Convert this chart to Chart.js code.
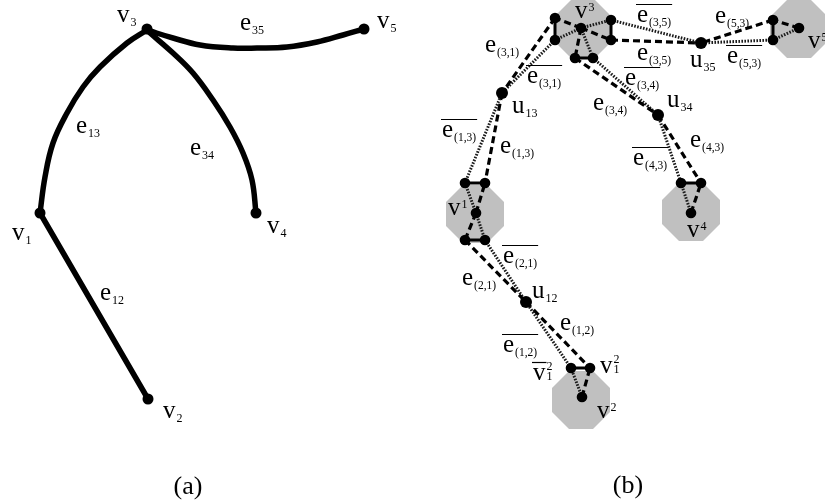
<!DOCTYPE html>
<html><head><meta charset="utf-8">
<script src="https://cdn.jsdelivr.net/npm/chart.js@4.4.0/dist/chart.umd.min.js"></script>
<style>html,body{margin:0;padding:0;background:#fff}#wrap{width:825px;height:503px;position:relative}</style>
</head><body><div id="wrap"><canvas id="c"></canvas></div>
<script>
// ---------- Panel (a): graph vertices ----------
const aNodeNames = ['v1','v2','v3','v4','v5'];
const aNodeX = [40,148,147,256,364];
const aNodeY = [213,399,29,213,29];
// Panel (a): points read along each edge
const e13X = [147,127,100,83,67,53,45,40];
const e13Y = [30,43,67,87,113,143,177,213];
const e34X = [150,173,193,213,230,243,252,256];
const e34Y = [33,53,73,100,127,153,180,213];
const e35X = [147,173,200,233,257,287,317,343,364];
const e35Y = [30,38,45,48,48,47,42,35,29];
const e12X = [40,148];
const e12Y = [213,399];

// ---------- Panel (b): gadget nodes ----------
const bNodeNames = ['v3','v3L1','v3L2','v3R1','v3R2','v3B1','v3B2',
  'v5','v5P1','v5P2','u35','u13','u34','u12',
  'v4','v4P1','v4P2','v1','v1T1','v1T2','v1B1','v1B2','v2','v2P1','v2P2'];
const bNodeX = [581,555,555,611,611,575,593, 799,773,773, 701,502,658,526, 691,681,701, 476,465,485,465,485, 582,571,590];
const bNodeY = [28,18,40,20,40,58,58, 28,20,40, 43,93,115,302, 213,183,183, 213,183,183,240,240, 397,368,368];
// edges: from, to, kind
const bEdgeFrom = ['v3L1','v3R1','v3B1','v5P1','v4P1','v1T1','v1B1','v2P1',
  'v3','v3','v3','v3','v3','v3','v5','v5','v4','v4','v1','v1','v1','v1','v2','v2',
  'v3L1','v3L2','v3R1','v3R2','v3B1','v3B2','v5P1','v5P2','u34','u34','u13','u13','v1B1','v1B2','u12','u12'];
const bEdgeTo = ['v3L2','v3R2','v3B2','v5P2','v4P2','v1T2','v1B2','v2P2',
  'v3L1','v3L2','v3R1','v3R2','v3B1','v3B2','v5P1','v5P2','v4P1','v4P2','v1T1','v1T2','v1B1','v1B2','v2P1','v2P2',
  'u13','u13','u35','u35','u34','u34','u35','u35','v4P1','v4P2','v1T1','v1T2','u12','u12','v2P1','v2P2'];
const bEdgeKind = ['solid','solid','solid','solid','solid','solid','solid','solid',
  'dash','dot','dot','dash','dash','dot','dash','dot','dot','dash','dot','dash','dash','dot','dot','dash',
  'dash','dot','dot','dash','dash','dot','dash','dot','dot','dash','dot','dash','dash','dot','dot','dash'];
// gray octagon regions
const hubX = [475,581,583,691,799];
const hubY = [214,400,29,212,29];

// ---------- text labels ----------
const labMain = ['v','v','v','v','v','e','e','e','e',
  'e','e','e','e','e','e','e','e','u','u','u','u','e','e','e','e','e','e','e','e','v','v','v','v','v','v','v'];
const labSub = ['3','5','1','4','2','35','13','34','12',
  '(3,5)','(3,5)','(3,1)','(3,1)','(3,4)','(3,4)','(5,3)','(5,3)','35','34','13','12','(1,3)','(1,3)','(4,3)','(4,3)','(2,1)','(2,1)','(1,2)','(1,2)','1','1','','','','',''];
const labSup = ['','','','','','','','','',
  '','','','','','','','','','','','','','','','','','','','','2','2','2','3','5','1','4'];
const labBar = [0,0,0,0,0,0,0,0,0,
  1,0,0,1,1,0,0,1,0,0,0,0,1,0,1,0,1,0,0,1,1,0,0,0,0,0,0];
const labX = [117,377,12,267,163,240,76,190,100,
  637,637,485,527,625,593,715,727,690,667,512,532,442,500,633,690,503,462,560,503,533,600,597,575,808,448,687];
const labY = [22,28,240,233,418,30,133,155,300,
  22,60,52,83,85,110,23,63,67,107,113,298,137,153,165,147,263,285,330,352,380,373,418,18,48,215,237];
const panelCaps = ['(a)','(b)'];
const capX = [188,628];
const capY = [494,493];

// ---------- build ----------
function octagon(size){
  const c=document.createElement('canvas');c.width=size;c.height=size;
  const g=c.getContext('2d');const h=size/2;const R=h/Math.cos(Math.PI/8);
  g.fillStyle='#c0c0c0';g.beginPath();
  for(let k=0;k<8;k++){const t=Math.PI/8+k*Math.PI/4;const px=h+R*Math.cos(t),py=h+R*Math.sin(t);
    if(k===0)g.moveTo(px,py);else g.lineTo(px,py);}
  g.closePath();g.fill();return c;
}
const oct = octagon(58);
const pts=(xs,ys)=>xs.map((x,i)=>({x,y:ys[i]}));
const idx = n=>bNodeNames.indexOf(n);
const datasets=[];
// panel (a) curves
[[e13X,e13Y],[e34X,e34Y],[e35X,e35Y],[e12X,e12Y]].forEach(([xs,ys])=>{
  datasets.push({data:pts(xs,ys),showLine:true,borderColor:'#000',borderWidth:5.5,tension:0.4,pointRadius:0,borderCapStyle:'round',order:1});
});
datasets.push({data:pts(aNodeX,aNodeY),pointRadius:5.5,backgroundColor:'#000',borderWidth:0,order:0});
// panel (b) edges
bEdgeFrom.forEach((f,i)=>{
  const a=idx(f),b=idx(bEdgeTo[i]);const k=bEdgeKind[i];
  const ds={data:[{x:bNodeX[a],y:bNodeY[a]},{x:bNodeX[b],y:bNodeY[b]}],showLine:true,pointRadius:0,order:2,borderColor:'#000'};
  if(k==='solid'){ds.borderWidth=3;}
  else if(k==='dash'){ds.borderWidth=3.2;ds.borderDash=[7,4];}
  else {ds.borderWidth=3;ds.borderDash=[1.6,1.4];ds.borderColor='#1a1a1a';}
  datasets.push(ds);
});
datasets.push({data:pts(bNodeX,bNodeY),pointRadius:bNodeNames.map(n=>n[0]==='u'?6:5.3),backgroundColor:'#000',borderWidth:0,order:0});
datasets.push({data:pts(hubX,hubY),pointStyle:oct,pointRadius:1,order:50});

const labelPlugin={id:'labels',afterDatasetsDraw(chart){
  const ctx=chart.ctx,sx=chart.scales.x,sy=chart.scales.y;
  ctx.save();ctx.fillStyle='#000';ctx.strokeStyle='#000';ctx.textBaseline='alphabetic';
  labMain.forEach((m,i)=>{
    const px=sx.getPixelForValue(labX[i]),py=sy.getPixelForValue(labY[i]);
    ctx.font='25px "Liberation Serif"';ctx.textAlign='left';
    ctx.fillText(m,px,py);
    const w=ctx.measureText(m).width;
    let sw=0;
    const s=labSub[i];
    ctx.font=(s.length>3?'11.5px':'12px')+' "Liberation Serif"';
    if(s){ctx.fillText(s,px+w+1,py+(labSup[i]?0:4));sw=ctx.measureText(s).width;}
    if(labSup[i]){ctx.fillText(labSup[i],px+w+1,py-(s?10:7));}
    if(labBar[i]){const L=labSup[i]?w+1:w+sw+2;ctx.lineWidth=1.2;ctx.beginPath();ctx.moveTo(px-1,py-17.5);ctx.lineTo(px+L,py-17.5);ctx.stroke();}
  });
  ctx.font='26px "Liberation Serif"';ctx.textAlign='center';
  panelCaps.forEach((c,i)=>ctx.fillText(c,sx.getPixelForValue(capX[i]),sy.getPixelForValue(capY[i])));
  ctx.restore();
}};

new Chart(document.getElementById('c'),{
  type:'scatter',
  data:{datasets},
  options:{responsive:true,maintainAspectRatio:false,animation:false,events:[],
    layout:{padding:0,autoPadding:false},
    plugins:{legend:{display:false},tooltip:{enabled:false}},
    elements:{line:{fill:false}},
    datasets:{scatter:{clip:false}},
    scales:{x:{type:'linear',min:0,max:825,display:false},y:{type:'linear',min:0,max:503,reverse:true,display:false}}
  },
  plugins:[labelPlugin]
});
</script></body></html>
